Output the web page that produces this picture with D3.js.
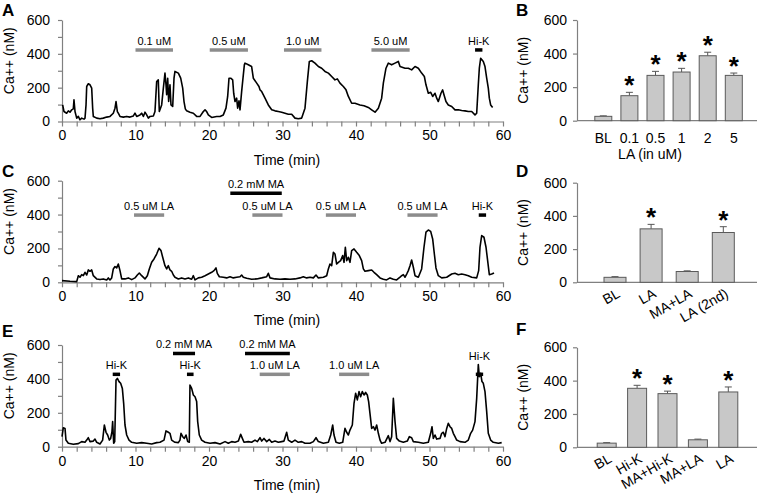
<!DOCTYPE html>
<html><head><meta charset="utf-8">
<script src="https://cdnjs.cloudflare.com/ajax/libs/d3/7.8.5/d3.min.js"></script>
<style>body{margin:0;background:#fff} svg{font-family:Arial,"Liberation Sans",sans-serif}</style>
</head><body><svg id="c" width="760" height="493"></svg>
<script>
// ---------- DATA ----------
const traceA = [[0.09,98],[0.27,59],[0.63,49],[0.86,63],[1.09,55],[1.32,69],[1.54,75],[1.63,128],[1.77,59],[2.0,20],[2.22,30],[2.45,10],[2.68,20],[2.99,14],[3.13,20],[3.27,98],[3.36,207],[3.58,223],[3.81,217],[4.04,197],[4.17,79],[4.26,30],[4.72,20],[5.17,16],[5.62,20],[6.08,26],[6.53,30],[6.98,49],[7.21,79],[7.35,118],[7.53,59],[7.66,49],[7.89,30],[8.34,26],[8.8,30],[9.25,26],[9.71,33],[9.93,49],[10.16,30],[10.61,39],[10.84,49],[11.07,30],[11.29,55],[11.52,39],[11.75,20],[11.97,30],[12.43,33],[12.65,59],[12.88,236],[13.1,246],[13.24,59],[13.56,98],[13.79,197],[14.01,286],[14.15,217],[14.24,158],[14.38,256],[14.51,118],[14.69,217],[14.83,98],[15.06,89],[15.24,256],[15.37,296],[15.83,286],[16.15,256],[16.42,197],[16.6,118],[16.78,75],[16.96,63],[17.41,55],[17.87,49],[18.32,30],[18.78,30],[19.23,59],[19.46,69],[19.68,59],[19.91,39],[20.36,24],[21.04,30],[21.5,30],[21.95,39],[22.31,79],[22.54,148],[22.72,256],[22.95,256],[23.22,246],[23.36,167],[23.54,118],[23.76,138],[23.9,79],[24.08,122],[24.22,69],[24.44,177],[24.67,276],[24.81,335],[24.9,345],[25.35,335],[25.8,325],[26.03,256],[26.49,227],[26.8,207],[26.94,187],[27.17,177],[27.62,138],[28.07,98],[28.53,69],[28.98,63],[29.43,59],[29.89,55],[30.34,49],[30.79,43],[31.25,43],[31.7,20],[32.15,16],[32.61,20],[33.06,79],[33.38,236],[33.65,355],[33.97,359],[34.42,345],[34.88,325],[35.33,315],[35.78,296],[36.24,286],[36.69,266],[37.14,246],[37.46,252],[37.82,227],[38.28,207],[38.64,187],[38.96,148],[39.41,108],[39.86,108],[40.54,98],[41.09,93],[41.68,83],[42.13,69],[42.59,55],[43.04,79],[43.49,138],[43.72,227],[44.08,315],[44.4,345],[44.85,335],[45.31,345],[45.76,355],[45.99,325],[46.67,315],[47.12,315],[47.57,305],[48.03,325],[48.48,315],[48.93,286],[49.3,266],[49.52,217],[49.84,167],[50.16,173],[50.43,148],[50.75,167],[50.98,138],[51.2,118],[51.56,167],[51.79,187],[51.97,158],[52.24,118],[52.56,98],[53.02,89],[53.47,69],[53.92,69],[54.38,65],[54.83,63],[55.28,59],[55.74,59],[56.19,39],[56.42,49],[56.64,217],[56.78,315],[56.96,374],[57.32,355],[57.55,325],[57.78,256],[58.0,197],[58.14,138],[58.32,98],[58.59,83]];

const traceC = [[0,10],[1.09,6],[2.0,4],[2.22,39],[2.45,30],[2.68,45],[2.9,39],[3.13,59],[3.36,43],[3.58,73],[3.81,65],[4.04,73],[4.26,39],[4.72,20],[5.17,16],[5.62,20],[6.08,14],[6.3,26],[6.53,14],[6.76,26],[6.98,79],[7.21,93],[7.44,85],[7.66,108],[7.89,69],[8.12,20],[8.57,20],[9.02,26],[9.48,16],[9.93,26],[10.25,43],[10.52,55],[10.84,39],[11.29,20],[11.61,39],[11.88,79],[12.2,118],[12.52,138],[12.88,167],[13.2,201],[13.47,187],[13.7,148],[14.01,98],[14.24,79],[14.47,98],[14.69,73],[14.92,65],[15.15,43],[15.37,30],[15.83,20],[16.28,26],[16.73,20],[17.19,26],[17.64,18],[17.87,39],[18.1,14],[18.55,26],[19.0,30],[19.46,39],[19.91,49],[20.36,59],[20.68,69],[20.95,85],[21.13,53],[21.41,33],[21.95,30],[22.4,26],[22.86,33],[23.31,26],[23.76,30],[24.22,33],[24.44,43],[24.67,30],[25.13,24],[25.8,18],[26.49,20],[27.17,26],[27.85,33],[28.07,53],[28.3,26],[28.98,20],[29.66,18],[30.34,20],[31.02,18],[31.7,20],[32.38,26],[32.83,33],[33.29,26],[33.74,30],[34.2,26],[34.56,43],[34.88,26],[35.56,30],[36.01,39],[36.24,79],[36.46,108],[36.69,98],[36.92,177],[37.14,167],[37.37,108],[37.6,118],[37.91,128],[38.19,158],[38.37,118],[38.55,207],[38.73,128],[38.96,148],[39.18,118],[39.41,187],[39.73,197],[40.09,177],[40.45,158],[40.77,128],[41.0,79],[41.22,65],[41.68,69],[42.13,73],[42.45,59],[42.81,45],[43.27,26],[43.72,18],[44.17,14],[44.63,26],[45.08,18],[45.53,14],[45.99,30],[46.21,39],[46.44,45],[46.67,30],[46.9,49],[47.12,69],[47.35,98],[47.57,132],[47.8,89],[48.03,39],[48.48,30],[48.93,79],[49.25,207],[49.52,296],[49.84,309],[50.16,301],[50.43,256],[50.66,167],[50.88,85],[51.2,39],[51.66,26],[52.34,30],[53.02,49],[53.47,53],[53.92,45],[54.38,49],[54.83,45],[55.28,39],[55.74,30],[56.42,26],[56.69,69],[56.87,207],[57.1,276],[57.41,266],[57.69,207],[57.91,128],[58.14,45],[58.46,49],[58.78,55]];

const traceE = [[0,59],[0.18,112],[0.41,108],[0.54,39],[0.86,20],[1.54,14],[2.22,18],[2.68,30],[3.13,26],[3.36,39],[3.58,53],[3.81,30],[4.26,33],[4.49,45],[4.72,26],[5.17,16],[5.53,39],[5.76,128],[5.99,85],[6.21,69],[6.44,39],[6.62,49],[6.8,89],[6.89,148],[7.03,20],[7.17,30],[7.35,393],[7.53,403],[7.76,384],[7.98,374],[8.21,344],[8.39,256],[8.57,128],[8.8,69],[9.12,39],[9.48,26],[10.16,20],[10.84,24],[11.52,20],[12.2,16],[12.88,24],[13.33,26],[13.88,39],[14.15,93],[14.47,85],[14.69,79],[14.92,39],[15.37,26],[15.83,24],[16.05,39],[16.19,79],[16.42,59],[16.64,49],[16.87,69],[17.1,30],[17.32,26],[17.41,364],[17.64,344],[17.87,305],[18.1,295],[18.32,266],[18.46,148],[18.68,69],[19.0,39],[19.46,26],[20.14,20],[20.82,24],[21.5,16],[22.18,30],[22.63,20],[23.09,30],[23.54,26],[24.0,33],[24.31,73],[24.54,49],[24.76,26],[25.35,30],[25.8,26],[26.26,39],[26.58,30],[26.94,53],[27.17,33],[27.48,49],[27.85,30],[28.21,43],[28.53,26],[28.98,33],[29.43,26],[29.89,30],[30.2,33],[30.57,85],[30.79,39],[31.25,26],[31.7,39],[32.15,26],[32.61,30],[33.06,20],[33.74,20],[34.2,30],[34.56,53],[34.88,30],[35.56,20],[36.24,26],[36.56,69],[36.83,128],[37.01,69],[37.28,26],[37.73,20],[38.19,26],[38.5,108],[38.73,85],[38.96,69],[39.18,98],[39.5,128],[39.73,256],[39.95,315],[40.18,276],[40.41,325],[40.63,295],[40.86,325],[41.09,305],[41.31,320],[41.54,305],[41.72,266],[41.9,197],[42.13,108],[42.36,118],[42.59,98],[42.81,128],[43.04,79],[43.27,39],[43.49,20],[43.95,26],[44.4,65],[44.63,30],[44.85,59],[45.08,285],[45.31,148],[45.53,49],[45.9,33],[46.44,26],[46.98,33],[47.26,59],[47.57,53],[47.8,30],[48.48,26],[49.16,20],[49.84,26],[50.16,79],[50.34,118],[50.52,49],[50.75,69],[50.98,45],[51.43,49],[51.66,79],[51.88,85],[52.11,59],[52.34,108],[52.56,138],[52.79,118],[53.02,108],[53.24,79],[53.47,59],[53.7,39],[54.15,30],[54.83,26],[55.28,39],[55.6,79],[55.87,98],[56.19,148],[56.42,285],[56.64,485],[56.78,413],[56.96,433],[57.14,384],[57.32,374],[57.55,325],[57.78,207],[58.0,79],[58.32,39],[58.68,26],[59.37,20],[59.82,24]];

// stimulus annotations: label, start/end time (min), level (nM), drug type
const annotA = [
  {label:"0.1 uM", t0:10.0, t1:15.1, level:423, drug:"LA"},
  {label:"0.5 uM", t0:20.1, t1:25.3, level:423, drug:"LA"},
  {label:"1.0 uM", t0:30.2, t1:35.3, level:423, drug:"LA"},
  {label:"5.0 uM", t0:42.1, t1:47.3, level:423, drug:"LA"},
  {label:"Hi-K",   t0:56.2, t1:57.2, level:423, drug:"HiK"}
];
const annotC = [
  {label:"0.2 mM MA", t0:22.9, t1:29.9, level:526, drug:"MA"},
  {label:"0.5 uM LA", t0:9.8,  t1:13.9, level:397, drug:"LA"},
  {label:"0.5 uM LA", t0:25.9, t1:30.0, level:397, drug:"LA"},
  {label:"0.5 uM LA", t0:35.9, t1:40.0, level:397, drug:"LA"},
  {label:"0.5 uM LA", t0:47.0, t1:51.1, level:397, drug:"LA"},
  {label:"Hi-K",      t0:56.7, t1:57.7, level:397, drug:"HiK"}
];
const annotE = [
  {label:"Hi-K",      t0:6.9,  t1:7.9,  level:427, drug:"HiK"},
  {label:"0.2 mM MA", t0:15.1, t1:18.1, level:550, drug:"MA"},
  {label:"Hi-K",      t0:17.0, t1:17.9, level:427, drug:"HiK"},
  {label:"0.2 mM MA", t0:24.9, t1:31.0, level:550, drug:"MA"},
  {label:"1.0 uM LA", t0:26.9, t1:31.0, level:427, drug:"LA"},
  {label:"1.0 uM LA", t0:37.7, t1:41.8, level:427, drug:"LA"},
  {label:"Hi-K",      t0:56.3, t1:57.3, level:427, drug:"HiK", raised:true}
];

const timeTicks = [0,10,20,30,40,50,60];
const caTicks = [0,200,400,600];

const catsB = ["BL","0.1","0.5","1","2","5"];
const meanB = [26,149,270,290,387,270];
const errB  = [3,20,24,22,21,14];
const sigB  = [false,true,true,true,true,true];

const catsD = ["BL","LA","MA+LA","LA (2nd)"];
const meanD = [30,322,65,300];
const errD  = [4,27,4,35];
const sigD  = [false,true,false,true];

const catsF = ["BL","Hi-K","MA+Hi-K","MA+LA","LA"];
const meanF = [25,354,322,45,332];
const errF  = [3,18,15,4,30];
const sigF  = [false,true,true,false,true];

// ---------- DRAW ----------
const svg = d3.select("#c");
const AX = "#808080";
const drugColor = {LA:"#8c8c8c", MA:"#000", HiK:"#000"};

function styleAxis(g){
  g.select(".domain").attr("stroke",AX).attr("stroke-width",1.2);
  g.selectAll(".tick line").attr("stroke",AX).attr("stroke-width",1.2);
  g.selectAll(".tick text").attr("fill","#000").style("font-size","14px");
}

function tracePanel(top, bottom, data, annots, letter, letterY){
  const x = d3.scaleLinear().domain([0,60]).range([62,503]);
  const y = d3.scaleLinear().domain([0,600]).range([bottom, top]);
  const gy = svg.append("g").attr("transform","translate(62,0)")
    .call(d3.axisLeft(y).tickValues(d3.range(0,601,100)).tickSize(4).tickPadding(8).tickSizeOuter(0)
      .tickFormat(d => caTicks.includes(d) ? d : ""));
  styleAxis(gy);
  const gx = svg.append("g").attr("transform",`translate(0,${bottom})`)
    .call(d3.axisBottom(x).tickValues(d3.range(0,61,2)).tickSize(5).tickPadding(4).tickSizeOuter(0)
      .tickFormat(d => timeTicks.includes(d) ? d : ""));
  styleAxis(gx);
  svg.append("text").attr("x",287).attr("y",bottom+43).attr("text-anchor","middle")
    .style("font-size","14px").text("Time (min)");
  svg.append("text").attr("transform",`translate(14,${(top+bottom)/2-10}) rotate(-90)`)
    .attr("text-anchor","middle").style("font-size","14px").text("Ca++ (nM)");
  svg.append("text").attr("x",2).attr("y",letterY).style("font-size","17px").style("font-weight","bold").text(letter);
  svg.append("path").datum(data)
    .attr("fill","none").attr("stroke","#000").attr("stroke-width",1.6).attr("stroke-linejoin","round")
    .attr("d", d3.line().x(d=>x(d[0])).y(d=>y(d[1])));
  const ag = svg.append("g");
  annots.forEach(a=>{
    ag.append("line").attr("x1",x(a.t0)).attr("x2",x(a.t1)).attr("y1",y(a.level)).attr("y2",y(a.level))
      .attr("stroke",drugColor[a.drug]).attr("stroke-width",3.5);
    ag.append("text").attr("x",(x(a.t0)+x(a.t1))/2).attr("y",y(a.level)-(a.raised?14:5))
      .attr("text-anchor","middle").style("font-size","11px").text(a.label);
  });
}

tracePanel(20,121.5,traceA,annotA,"A",16);
tracePanel(180.7,282.3,traceC,annotC,"C",177);
tracePanel(345,446.7,traceE,annotE,"E",337);

function barPanel(top,bottom,cats,means,errs,sig,cx0,step,bw,letter,letterY,rotated,xTitle){
  const y = d3.scaleLinear().domain([0,600]).range([bottom,top]);
  const x = d3.scalePoint().domain(cats).range([cx0, cx0+step*(cats.length-1)]);
  const gy = svg.append("g").attr("transform","translate(577,0)")
    .call(d3.axisLeft(y).tickValues(caTicks).tickSize(4).tickPadding(6).tickSizeOuter(0));
  styleAxis(gy);
  svg.append("line").attr("x1",577).attr("x2",757).attr("y1",bottom).attr("y2",bottom).attr("stroke",AX).attr("stroke-width",1.2);
  svg.append("text").attr("transform",`translate(528,${(top+bottom)/2}) rotate(-90)`)
    .attr("text-anchor","middle").style("font-size","14px").text("Ca++ (nM)");
  svg.append("text").attr("x",516).attr("y",letterY).style("font-size","17px").style("font-weight","bold").text(letter);
  cats.forEach((c,i)=>{
    const cx = x(c);
    svg.append("line").attr("x1",cx).attr("x2",cx).attr("y1",y(means[i])).attr("y2",y(means[i]+errs[i]))
      .attr("stroke","#555").attr("stroke-width",1);
    svg.append("line").attr("x1",cx-3.5).attr("x2",cx+3.5).attr("y1",y(means[i]+errs[i])).attr("y2",y(means[i]+errs[i]))
      .attr("stroke","#555").attr("stroke-width",1);
    svg.append("rect").attr("x",cx-bw/2).attr("y",y(means[i])).attr("width",bw).attr("height",bottom-y(means[i]))
      .attr("fill","#c8c8c8").attr("stroke","#5a5a5a").attr("stroke-width",1);
    if(sig[i]) svg.append("text").attr("x",cx).attr("y",y(means[i]+errs[i])+2)
      .attr("text-anchor","middle").style("font-size","26px").style("font-weight","bold").text("*");
    if(rotated){
      svg.append("text").attr("transform",`translate(${cx+6},${bottom+14}) rotate(-30)`)
        .attr("text-anchor","end").style("font-size","14px").text(c);
    } else {
      svg.append("text").attr("x",cx).attr("y",bottom+22).attr("text-anchor","middle").style("font-size","14px").text(c);
    }
  });
  if(xTitle) svg.append("text").attr("x",650).attr("y",bottom+38).attr("text-anchor","middle").style("font-size","14px").text(xTitle);
}

barPanel(20,120.7,catsB,meanB,errB,sigB,603.3,26.1,17,"B",16,false,"LA (in uM)");
barPanel(182.7,282.3,catsD,meanD,errD,sigD,615,36.1,22,"D",177,true,null);
barPanel(347.3,447.3,catsF,meanF,errF,sigF,606.7,30.4,19,"F",335,true,null);
</script></body></html>
